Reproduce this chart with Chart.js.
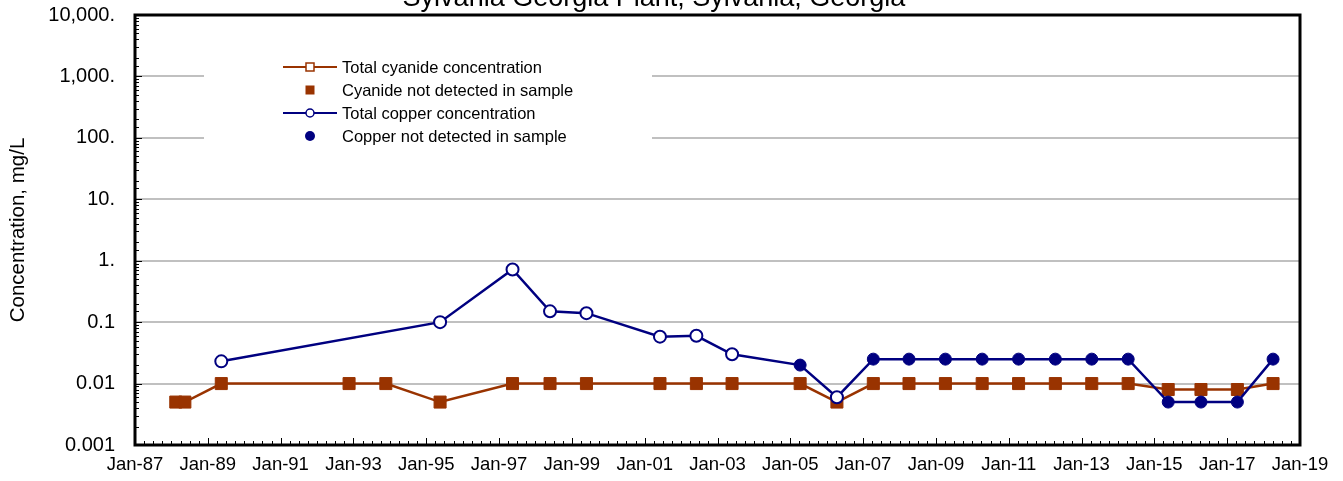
<!DOCTYPE html>
<html>
<head>
<meta charset="utf-8">
<script src="https://cdn.jsdelivr.net/npm/chart.js@4"></script>
<style>
  body { margin: 0; background: #fff; }
  canvas { display: block; }
</style>
</head>
<body>
<canvas id="chart" width="1343" height="481"></canvas>
<script>
// sampling dates as decimal years
const cyanideDates = [1988.12, 1988.37, 1989.37, 1992.88, 1993.89, 1995.38, 1997.37, 1998.40, 1999.40, 2001.42, 2002.42, 2003.40, 2005.27, 2006.28, 2007.28, 2008.26, 2009.26, 2010.27, 2011.27, 2012.28, 2013.28, 2014.28, 2015.38, 2016.28, 2017.28, 2018.26]
const cyanideValues = [0.005, 0.005, 0.01, 0.01, 0.01, 0.005, 0.01, 0.01, 0.01, 0.01, 0.01, 0.01, 0.01, 0.005, 0.01, 0.01, 0.01, 0.01, 0.01, 0.01, 0.01, 0.01, 0.008, 0.008, 0.008, 0.01]
const cyanideNotDetected = [1, 1, 1, 1, 1, 1, 1, 1, 1, 1, 1, 1, 1, 1, 1, 1, 1, 1, 1, 1, 1, 1, 1, 1, 1, 1]

const copperDates = [1989.37, 1995.38, 1997.37, 1998.40, 1999.40, 2001.42, 2002.42, 2003.40, 2005.27, 2006.28, 2007.28, 2008.26, 2009.26, 2010.27, 2011.27, 2012.28, 2013.28, 2014.28, 2015.38, 2016.28, 2017.28, 2018.26]
const copperValues = [0.023, 0.1, 0.72, 0.15, 0.14, 0.058, 0.06, 0.03, 0.02, 0.006, 0.025, 0.025, 0.025, 0.025, 0.025, 0.025, 0.025, 0.025, 0.005, 0.005, 0.005, 0.025]
const copperNotDetected = [0, 0, 0, 0, 0, 0, 0, 0, 1, 0, 1, 1, 1, 1, 1, 1, 1, 1, 1, 1, 1, 1]

const legendLabels = ["Total cyanide concentration", "Cyanide not detected in sample", "Total copper concentration", "Copper not detected in sample"]
const chartTitle = "Sylvania Georgia Plant, Sylvania, Georgia"
const yTitle = "Concentration, mg/L"

const cyanideColor = "#993300"
const copperColor = "#000080"

Chart.defaults.font.family = "'Liberation Sans', Arial, sans-serif"
Chart.defaults.color = "#000"

const toPoints = (dates, values) => dates.map((d, i) => ({ x: d, y: values[i] }))

const isDecade = v => Math.abs(Math.log10(v) - Math.round(Math.log10(v))) < 1e-6

function yLabel(v) {
	if (!isDecade(v)) return ""
	const e = Math.round(Math.log10(v))
	if (e >= 0) return Math.pow(10, e).toLocaleString("en-US") + "."
	return Math.pow(10, e).toFixed(-e)
}

// ticks inside the plot, frame, title and legend box
const decorations = {
	id: "decorations",
	afterDraw(chart) {
		const ctx = chart.ctx
		const area = chart.chartArea
		const x = chart.scales.x
		const y = chart.scales.y
		ctx.save()

		ctx.strokeStyle = "#000"
		ctx.lineWidth = 1
		y.ticks.forEach(t => {
			const py = Math.round(y.getPixelForValue(t.value)) + 0.5
			const len = isDecade(t.value) ? 7 : 4
			ctx.beginPath()
			ctx.moveTo(area.left, py)
			ctx.lineTo(area.left + len, py)
			ctx.stroke()
		})
		x.ticks.forEach(t => {
			const px = Math.round(x.getPixelForValue(t.value)) + 0.5
			const yr = t.value
			let len = 4
			if (Number.isInteger(yr) && yr % 2 === 1) len = 7
			ctx.beginPath()
			ctx.moveTo(px, area.bottom)
			ctx.lineTo(px, area.bottom - len)
			ctx.stroke()
		})

		// frame
		ctx.lineWidth = 3
		ctx.strokeRect(area.left, area.top, area.right - area.left, area.bottom - area.top)

		// title, cut by the top edge as in the source
		ctx.fillStyle = "#000"
		ctx.font = "27px 'Liberation Sans', Arial, sans-serif"
		ctx.textAlign = "center"
		ctx.textBaseline = "alphabetic"
		ctx.fillText(chartTitle, 654, 6)

		// legend
		ctx.fillStyle = "#fff"
		ctx.fillRect(204, 46, 448, 108)
		ctx.font = "16.5px 'Liberation Sans', Arial, sans-serif"
		ctx.textAlign = "left"
		ctx.textBaseline = "middle"
		const rows = [67, 90, 113, 136]
		const colors = [cyanideColor, cyanideColor, copperColor, copperColor]
		rows.forEach((ry, i) => {
			const c = colors[i]
			ctx.strokeStyle = c
			ctx.fillStyle = c
			if (i === 0 || i === 2) {
				ctx.lineWidth = 2
				ctx.beginPath()
				ctx.moveTo(283, ry)
				ctx.lineTo(337, ry)
				ctx.stroke()
			}
			ctx.lineWidth = 1.5
			if (i === 0) {
				ctx.fillStyle = "#fff"
				ctx.fillRect(306, ry - 4, 8, 8)
				ctx.strokeRect(306, ry - 4, 8, 8)
			} else if (i === 1) {
				ctx.fillRect(305.5, ry - 4.5, 9, 9)
			} else if (i === 2) {
				ctx.fillStyle = "#fff"
				ctx.beginPath()
				ctx.arc(310, ry, 4, 0, Math.PI * 2)
				ctx.fill()
				ctx.stroke()
			} else {
				ctx.beginPath()
				ctx.arc(310, ry, 5, 0, Math.PI * 2)
				ctx.fill()
			}
			ctx.fillStyle = "#000"
			ctx.fillText(legendLabels[i], 342, ry + 1)
		})
		ctx.restore()
	}
}

new Chart(document.getElementById("chart"), {
	type: "line",
	data: {
		datasets: [{
			label: legendLabels[0],
			data: toPoints(cyanideDates, cyanideValues),
			borderColor: cyanideColor,
			borderWidth: 2.5,
			pointStyle: "rect",
			pointRadius: 8.5,
			pointBorderWidth: 1,
			pointBorderColor: cyanideColor,
			pointBackgroundColor: cyanideNotDetected.map(f => f ? cyanideColor : "#fff"),
			order: 2
		}, {
			label: legendLabels[2],
			data: toPoints(copperDates, copperValues),
			borderColor: copperColor,
			borderWidth: 2.5,
			pointStyle: "circle",
			pointRadius: 6,
			pointBorderWidth: copperNotDetected.map(f => f ? 1 : 2),
			pointBorderColor: copperColor,
			pointBackgroundColor: copperNotDetected.map(f => f ? copperColor : "#fff"),
			order: 1
		}]
	},
	options: {
		responsive: false,
		animation: false,
		layout: { padding: { top: 15, right: 43, left: 0, bottom: 0 } },
		plugins: {
			legend: { display: false },
			tooltip: { enabled: false }
		},
		scales: {
			x: {
				type: "linear",
				min: 1987,
				max: 2019,
				afterFit: scale => { scale.height = 36 },
				grid: { display: false, drawTicks: false },
				border: { display: false },
				ticks: {
					stepSize: 0.25,
					autoSkip: false,
					maxRotation: 0,
					minRotation: 0,
					padding: 9,
					font: { size: 18.5 },
					callback: v => (Number.isInteger(v) && v % 2 === 1) ? "Jan-" + String(v).slice(2) : ""
				}
			},
			y: {
				type: "logarithmic",
				min: 0.001,
				max: 10000,
				afterFit: scale => {
					scale.width = 135
					scale.paddingTop = 0
					scale.paddingBottom = 0
				},
				grid: {
					drawTicks: false,
					lineWidth: 2,
					color: c => (c.tick && isDecade(c.tick.value)) ? "#c0c0c0" : "rgba(0,0,0,0)"
				},
				border: { display: false },
				title: {
					display: true,
					text: yTitle,
					font: { size: 20.5 },
					padding: { top: 6, bottom: 0 }
				},
				ticks: {
					autoSkip: false,
					padding: 20,
					font: { size: 20 },
					callback: v => yLabel(v)
				}
			}
		}
	},
	plugins: [decorations]
})
</script>
</body>
</html>
